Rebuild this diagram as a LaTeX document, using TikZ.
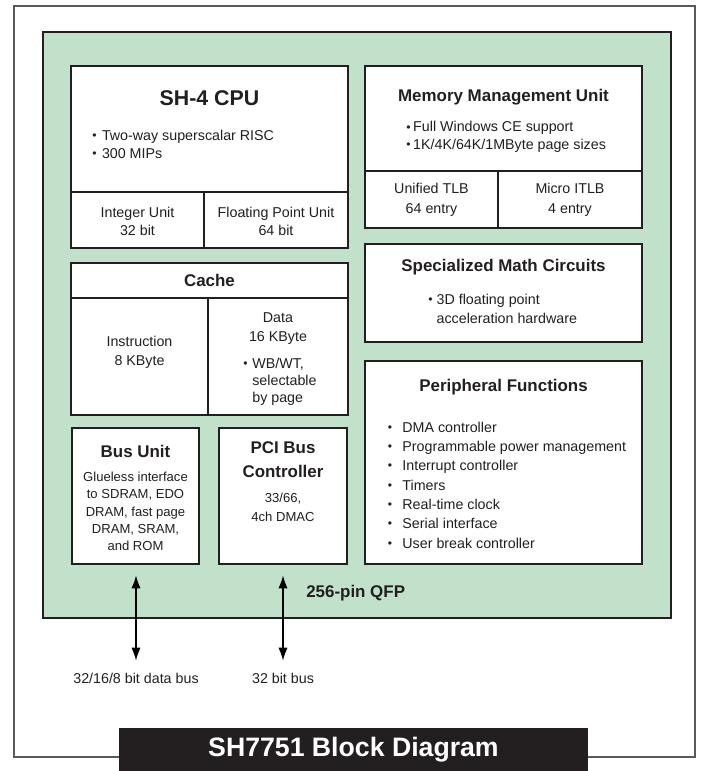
\documentclass[tikz,border=0pt]{standalone}
\usepackage{fontspec}
\setmainfont{Liberation Sans}
\usetikzlibrary{fit,arrows.meta}
\definecolor{chipgreen}{RGB}{193,225,203}
\definecolor{ink}{RGB}{35,31,32}
\newcommand\bulw[1]{\makebox[#1][l]{\raisebox{0.12ex}{\scalebox{0.85}{•}}}}
\tikzset{
  box/.style={draw=ink, line width=1pt, fill=white, inner sep=0pt},
  divider/.style={draw=ink, line width=1pt},
  ctitle/.style={text=ink, inner sep=0pt, font=\fontsize{16}{19}\selectfont\bfseries},
  btitle/.style={text=ink, inner sep=0pt, font=\fontsize{12.7}{18}\selectfont\bfseries},
  body/.style={text=ink, inner sep=0pt, font=\fontsize{10.7}{#1}\selectfont},
  body/.default={13.5pt},
  small/.style={text=ink, inner sep=0pt, font=\fontsize{9.8}{#1}\selectfont},
  small/.default={13pt},
  busarrow/.style={draw=black, line width=1.6pt, {Latex[length=10pt,width=7pt]}-{Latex[length=10pt,width=7pt]}},
}
\begin{document}
\begin{tikzpicture}[x=0.75pt,y=-0.75pt]
\useasboundingbox (0,0) rectangle (701,771);
% outer frame and chip body
\draw[draw=gray!70!black, line width=0.8pt] (14,6) rectangle (695,757);
\node[draw=ink, line width=0.9pt, fill=chipgreen, inner sep=0pt, fit={(43,32) (671,618)}] (chip) {};

% SH-4 CPU
\node[box, fit={(71,66) (348,248)}] (cpu) {};
\draw[divider] (71,192) -- (348,192);
\draw[divider] (204,192) -- (204,248);
\node[ctitle] (cputitle) at (209.5,98) {SH-4 CPU};
\node[body, anchor=west, align=left] (cpubul) at (92,144) {\bulw{7.3pt}Two-way superscalar RISC\\\bulw{7.3pt}300 MIPs};
\node[body={13.5pt}, align=center] (intu) at (137.5,221) {Integer Unit\\32 bit};
\node[body={13.5pt}, align=center] (fpu) at (276,221) {Floating Point Unit\\64 bit};

% MMU
\node[box, fit={(365,66) (642,228)}] (mmu) {};
\draw[divider] (365,171) -- (642,171);
\draw[divider] (498,171) -- (498,228);
\node[btitle] (mmutitle) at (503.5,97) {Memory Management Unit};
\node[body={13.1pt}, anchor=west, align=left] (mmubul) at (406,137) {\bulw{5.2pt}Full Windows CE support\\\bulw{5.2pt}1K/4K/64K/1MByte page sizes};
\node[body={15pt}, align=center] (utlb) at (431.5,200) {Unified TLB\\64 entry};
\node[body={15pt}, align=center] (itlb) at (570,200) {Micro ITLB\\4 entry};

% Math
\node[box, fit={(365,244) (642,342)}] (math) {};
\node[btitle] (mathtitle) at (503.5,267) {Specialized Math Circuits};
\node[body={14.6pt}, anchor=west, align=left] (mathbul) at (428,309) {\bulw{6.3pt}3D floating point\\\hspace*{6.3pt}acceleration hardware};

% Peripheral
\node[box, fit={(365,361) (642,564)}] (peri) {};
\node[btitle] (perititle) at (503.5,387) {Peripheral Functions};
\node[body={14.5pt}, anchor=west, align=left] (peribul) at (387.5,485) {\bulw{11pt}DMA controller\\\bulw{11pt}Programmable power management\\\bulw{11pt}Interrupt controller\\\bulw{11pt}Timers\\\bulw{11pt}Real-time clock\\\bulw{11pt}Serial interface\\\bulw{11pt}User break controller};

% Cache
\node[box, fit={(71,263) (348,415)}] (cache) {};
\draw[divider] (71,298) -- (348,298);
\draw[divider] (208,298) -- (208,415);
\node[btitle] (cachetitle) at (209.5,280) {Cache};
\node[body={14.3pt}, align=center] (instr) at (139.5,352.5) {Instruction\\8 KByte};
\node[body={14.3pt}, align=center] (data) at (278,328.5) {Data\\16 KByte};
\node[body={12.9pt}, anchor=west, align=left] (databul) at (243,382) {\bulw{6.8pt}WB/WT,\\\hspace*{6.8pt}selectable\\\hspace*{6.8pt}by page};

% Bus unit
\node[box, fit={(72,428) (199,564)}] (bus) {};
\node[btitle] (bustitle) at (135.5,451) {Bus Unit};
\node[small={13pt}, align=center] (bustext) at (135.5,511.5) {Glueless interface\\to SDRAM, EDO\\DRAM, fast page\\DRAM, SRAM,\\and ROM};

% PCI
\node[box, fit={(219,428) (347,564)}] (pci) {};
\node[btitle, align=center] (pcititle) at (283,460) {PCI Bus\\Controller};
\node[small={14.3pt}, align=center] (pcitext) at (283,507.5) {33/66,\\4ch DMAC};

% package label
\node[btitle, anchor=west] (qfp) at (306,593) {256-pin QFP};

% bus arrows
\coordinate (busA) at (136,575);
\coordinate (busB) at (136,661);
\coordinate (pciA) at (283,575);
\coordinate (pciB) at (283,661);
\draw[busarrow] (busA) -- (busB);
\draw[busarrow] (pciA) -- (pciB);
\node[body] (buslbl) at (136,678) {32/16/8 bit data bus};
\node[body] (pcilbl) at (283,678) {32 bit bus};

% title bar
\node[fill=ink, inner sep=0pt, fit={(119,728) (588,771)}] (titlebar) {};
\node[text=white, inner sep=0pt, font=\fontsize{20}{24}\selectfont\bfseries] (title) at (353.5,750) {SH7751 Block Diagram};
\end{tikzpicture}
\end{document}
